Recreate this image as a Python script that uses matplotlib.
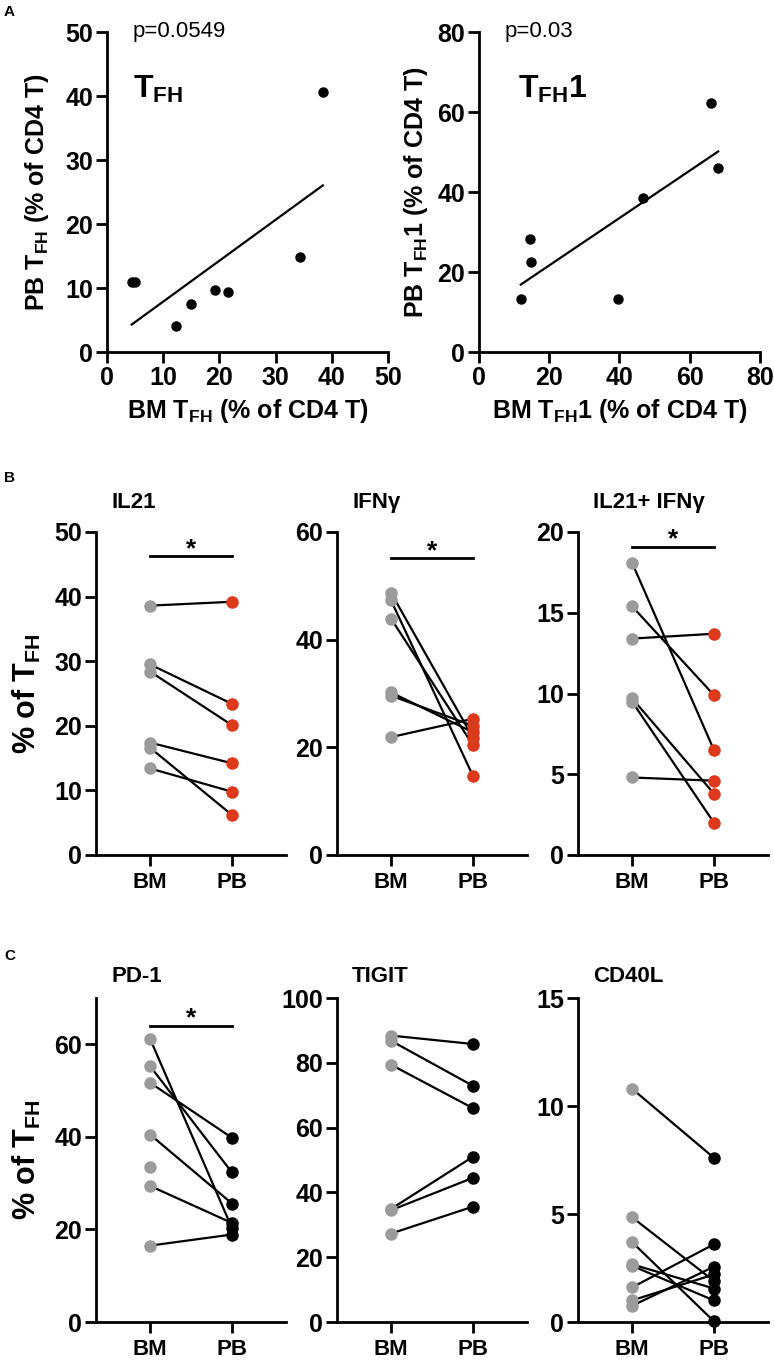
import matplotlib
matplotlib.use("Agg")
import matplotlib.pyplot as plt
import numpy as np

plt.rcParams["font.family"] = ["Liberation Sans", "DejaVu Sans"]
plt.rcParams["font.weight"] = "bold"
plt.rcParams["axes.labelweight"] = "bold"
plt.rcParams["mathtext.fontset"] = "custom"
plt.rcParams["mathtext.rm"] = "Liberation Sans:bold"
plt.rcParams["mathtext.it"] = "Liberation Sans:bold"
plt.rcParams["mathtext.bf"] = "Liberation Sans:bold"
plt.rcParams["mathtext.default"] = "rm"

# ---- data ----
# panel A: BM vs PB correlation
tfh_bm = [4.4, 4.9, 12.2, 15.0, 19.3, 21.5, 34.4, 38.4]
tfh_pb = [10.9, 10.9, 4.0, 7.5, 9.7, 9.3, 14.8, 40.7]
tfh1_bm = [11.9, 14.6, 14.8, 39.6, 46.8, 66.0, 68.1]
tfh1_pb = [13.3, 28.2, 22.4, 13.2, 38.4, 62.3, 45.9]
p_values = ["p=0.0549", "p=0.03"]

# panel B: cytokines, paired BM -> PB
il21_bm = [38.6, 29.5, 28.4, 17.4, 16.6, 13.4]
il21_pb = [39.2, 23.4, 20.1, 14.2, 6.2, 9.8]
ifng_bm = [48.7, 47.3, 43.9, 30.2, 29.6, 21.9]
ifng_pb = [21.8, 14.7, 20.4, 22.8, 24.0, 25.3]
il21ifng_bm = [18.1, 15.4, 13.4, 9.7, 9.5, 4.8]
il21ifng_pb = [6.5, 9.9, 13.7, 3.8, 2.0, 4.6]

# panel C: surface markers, paired BM -> PB
pd1_bm = [61.2, 55.3, 51.7, 40.5, 33.5, 29.4, 16.5]
pd1_pb = [20.3, 32.3, 39.8, 25.6, np.nan, 21.4, 18.9]
tigit_bm = [88.4, 86.8, 79.4, 34.9, 34.5, 27.3]
tigit_pb = [85.8, 72.9, 66.0, 51.0, 44.5, 35.6]
cd40l_bm = [10.8, 4.85, 3.7, 2.67, 2.6, 1.6, 1.0, 0.75]
cd40l_pb = [7.6, 1.9, 0.03, 1.55, 1.0, 3.6, 2.2, 2.56]

groups = ["BM", "PB"]
b_titles = ["IL21", "IFNγ", "IL21+ IFNγ"]
c_titles = ["PD-1", "TIGIT", "CD40L"]
b_ylims = [50, 60, 20]
b_ysteps = [10, 20, 5]
c_ylims = [70, 100, 15]
c_ysteps = [20, 20, 5]
b_sig = [46.3, 55.2, 19.1]      # significance bar heights
c_sig = [64.0, None, None]

GRAY = "#9b9b9b"
RED = "#dc3a1b"
W, H = 774, 1360

fig = plt.figure(figsize=(W / 100, H / 100), dpi=100)


def px_axes(left, top, right, bottom):
    return fig.add_axes([left / W, 1 - bottom / H, (right - left) / W, (bottom - top) / H])


def style(ax, labelsize=18):
    for s in ["top", "right"]:
        ax.spines[s].set_visible(False)
    for s in ["left", "bottom"]:
        ax.spines[s].set_linewidth(2)
    ax.tick_params(width=2, length=8, pad=2, labelsize=labelsize)


# ---------- panel A ----------
def corr_panel(ax, x, y, lim, step, ptxt, name, xl, yl, tx, ylab_x):
    style(ax)
    ax.plot(x, y, "o", color="black", ms=6.5, zorder=3, clip_on=False)
    k, b = np.polyfit(x, y, 1)
    xs = np.array([min(x), max(x)])
    ax.plot(xs, k * xs + b, color="black", lw=1.6)
    ax.set_xlim(0, lim)
    ax.set_ylim(0, lim)
    ax.set_xticks(np.arange(0, lim + 1, step))
    ax.set_yticks(np.arange(0, lim + 1, step))
    ax.text(0.09, 1.0, ptxt, transform=ax.transAxes, fontsize=16,
            fontweight="normal", va="center", ha="left")
    ax.text(tx, 0.82, name, transform=ax.transAxes, fontsize=23,
            va="center", ha="left")
    ax.set_xlabel(xl, fontsize=18)
    ax.set_ylabel(yl, fontsize=18)
    ax.xaxis.set_label_coords(0.5, -0.14)
    ax.yaxis.set_label_coords(ylab_x, 0.5)


axA1 = px_axes(107, 32, 388, 352)
corr_panel(axA1, tfh_bm, tfh_pb, 50, 10, p_values[0], r"T$_{FH}$",
           r"BM T$_{FH}$ (% of CD4 T)", r"PB T$_{FH}$ (% of CD4 T)", 0.093, -0.2)
axA2 = px_axes(479, 32, 760, 352)
corr_panel(axA2, tfh1_bm, tfh1_pb, 80, 20, p_values[1], r"T$_{FH}$1",
           r"BM T$_{FH}$1 (% of CD4 T)", r"PB T$_{FH}$1 (% of CD4 T)", 0.139, -0.175)


# ---------- panels B and C ----------
def paired_panel(ax, bm, pb, pb_color, ylim, ystep, title, title_y, sig, ylabel):
    style(ax)
    for a, b in zip(bm, pb):
        ax.plot([0, 1], [a, b], color="black", lw=1.6, zorder=2)
    ax.plot(np.zeros(len(bm)), bm, "o", color=GRAY, ms=8, zorder=3, clip_on=False)
    ax.plot(np.ones(len(pb)), pb, "o", color=pb_color, ms=8, zorder=4, clip_on=False)
    ax.set_xlim(-0.66, 1.66)
    ax.set_ylim(0, ylim)
    ax.set_yticks(np.arange(0, ylim + 1, ystep))
    ax.set_xticks([0, 1])
    ax.set_xticklabels(groups, fontsize=16)
    ax.tick_params(axis="x", pad=4)
    ax.text(0.08, title_y, title, transform=ax.transAxes, fontsize=16,
            ha="left", va="center")
    if sig is not None:
        ax.plot([0, 1], [sig, sig], color="black", lw=2, clip_on=False)
        ax.text(0.5, sig, "*", fontsize=19, ha="center", va="baseline")
    if ylabel:
        ax.set_ylabel(r"% of T$_{FH}$", fontsize=22)
        ax.yaxis.set_label_coords(-0.28, 0.5)


b_data = [(il21_bm, il21_pb), (ifng_bm, ifng_pb), (il21ifng_bm, il21ifng_pb)]
c_data = [(pd1_bm, pd1_pb), (tigit_bm, tigit_pb), (cd40l_bm, cd40l_pb)]
col_left = [96, 337, 578]

for i, (bm, pb) in enumerate(b_data):
    ax = px_axes(col_left[i], 532, col_left[i] + 190, 855)
    paired_panel(ax, bm, pb, RED, b_ylims[i], b_ysteps[i], b_titles[i], 1.09,
                 b_sig[i], i == 0)

for i, (bm, pb) in enumerate(c_data):
    ax = px_axes(col_left[i], 998, col_left[i] + 190, 1322)
    paired_panel(ax, bm, pb, "black", c_ylims[i], c_ysteps[i], c_titles[i], 1.065,
                 c_sig[i], i == 0)

# panel letters
for letter, ypx in [("A", 12), ("B", 478), ("C", 956)]:
    fig.text(4 / W, 1 - ypx / H, letter, fontsize=11, ha="left", va="center")

fig.savefig("out.png", dpi=100)
